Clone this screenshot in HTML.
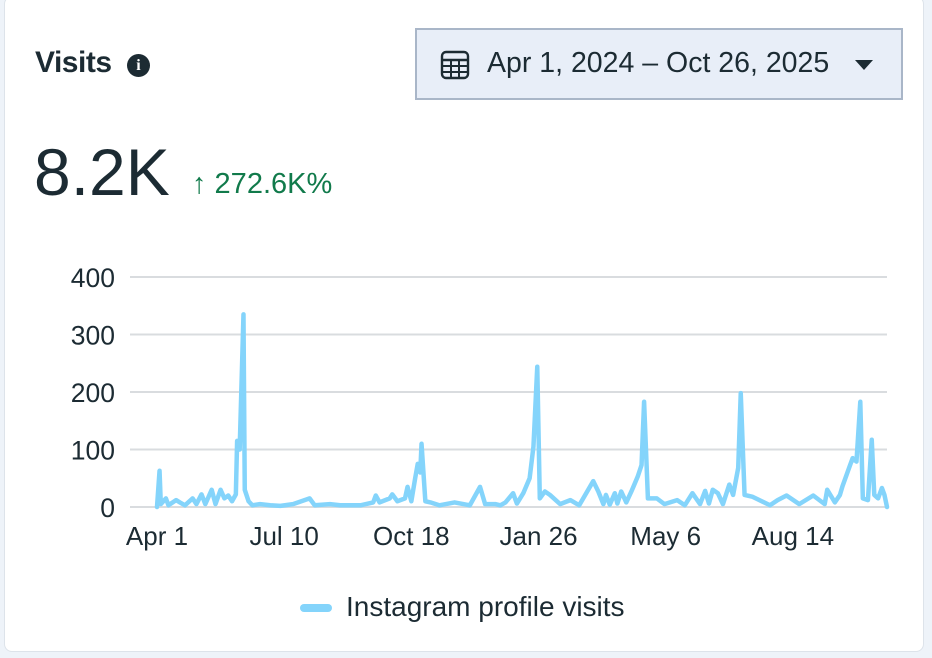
<!DOCTYPE html>
<html><head><meta charset="utf-8"><style>
body{margin:0;width:932px;height:658px;background:#eef3f9;font-family:"Liberation Sans",sans-serif;color:#1c2b33;overflow:hidden}
#card{position:absolute;left:4px;top:-4px;width:918px;height:654px;background:#fff;border:1px solid #dde3ea;border-radius:8px}
.t{position:absolute;white-space:nowrap}
</style></head><body>
<div id="card"></div>
<div class="t" style="left:35px;top:46px;font-size:30px;font-weight:bold;letter-spacing:-0.5px">Visits</div>
<div style="position:absolute;left:127px;top:54px;width:23px;height:23px;border-radius:50%;background:#1c2b33;color:#fff;font:bold 16px 'Liberation Serif',serif;text-align:center;line-height:23px">i</div>
<div style="position:absolute;left:415px;top:28px;width:488px;height:72px;background:#e8eef8;border:2px solid #a9b6c8;box-sizing:border-box"></div>
<svg style="position:absolute;left:440px;top:50px" width="30" height="30" viewBox="0 0 30 30"><rect x="2" y="2" width="26" height="26" rx="4" fill="none" stroke="#1c2b33" stroke-width="2.4"/><line x1="2" y1="10" x2="28" y2="10" stroke="#1c2b33" stroke-width="2.4"/><line x1="2" y1="16" x2="28" y2="16" stroke="#1c2b33" stroke-width="2"/><line x1="2" y1="22" x2="28" y2="22" stroke="#1c2b33" stroke-width="2"/><line x1="11" y1="10" x2="11" y2="28" stroke="#1c2b33" stroke-width="2"/><line x1="19" y1="10" x2="19" y2="28" stroke="#1c2b33" stroke-width="2"/></svg>
<div class="t" style="left:487px;top:47px;font-size:28.5px">Apr 1, 2024 – Oct 26, 2025</div>
<div style="position:absolute;left:855px;top:60px;width:0;height:0;border-left:9px solid transparent;border-right:9px solid transparent;border-top:10px solid #1c2b33"></div>
<div class="t" style="left:34px;top:134px;font-size:66px">8.2K</div>
<div class="t" style="left:192px;top:168px;font-size:29px;color:#117a4b">↑ 272.6K%</div>
<svg id="chart" style="position:absolute;left:0;top:0" width="932" height="658"></svg>
<div style="position:absolute;left:300px;top:604px;width:32px;height:8px;border-radius:4px;background:#84d4fb"></div>
<div class="t" style="left:346px;top:591px;font-size:28px">Instagram profile visits</div>
<script>
const days=[0,2,3,7,9,15,18,22,28,31,35,38,43,46,50,53,56,59,62,63,65,68,69,72,75,81,89,97,107,120,124,136,144,160,170,172,175,183,185,189,195,197,200,203,205,207,208,211,215,222,234,246,254,258,266,270,274,280,283,288,293,296,299,301,305,309,317,325,332,343,347,351,353,356,360,362,365,369,373,378,381,383,386,393,399,409,415,421,427,431,434,437,441,445,450,453,457,459,462,468,482,488,495,505,516,525,527,533,537,539,545,547,550,553,555,559,562,564,567,570,572,574];
const visits=[0,63,5,15,3,12,8,3,15,5,22,5,30,5,30,15,20,10,22,115,100,335,30,10,3,5,3,2,5,15,3,5,3,3,8,20,8,15,22,10,15,35,10,50,75,60,110,10,8,3,8,3,35,5,5,3,8,24,6,24,50,105,244,15,27,21,5,12,3,45,27,5,21,4,24,6,27,8,27,53,73,183,15,15,5,12,3,24,5,28,6,30,24,5,39,21,68,198,21,18,3,12,20,5,20,5,30,8,21,36,73,85,79,183,15,12,117,21,15,33,21,0];
const yTicks=[0,100,200,300,400];
const xTickDays=[0,100,200,300,400,500];
const xTickLabels=["Apr 1","Jul 10","Oct 18","Jan 26","May 6","Aug 14"];
const svg=document.getElementById('chart');const NS='http://www.w3.org/2000/svg';
const X=d=>157+d*(730/574), Y=v=>507-v*0.575;
function mk(t,a){const e=document.createElementNS(NS,t);for(const k in a)e.setAttribute(k,a[k]);svg.appendChild(e);return e;}
yTicks.forEach(v=>{
 const l=mk('line',{x1:130,x2:887,y1:Y(v),y2:Y(v),stroke:'#d9dcdf','stroke-width':2});
 
 
 const t=mk('text',{x:115,y:Y(v)+10,'text-anchor':'end','font-size':26.5,fill:'#1c2b33','font-family':'Liberation Sans'});t.textContent=v;
 
 
});
xTickDays.forEach((d,i)=>{
 const t=mk('text',{x:X(d),y:545,'text-anchor':'middle','font-size':26,fill:'#1c2b33','font-family':'Liberation Sans'});t.textContent=xTickLabels[i];
 
 
});
const p=mk('polyline',{points:days.map((d,i)=>X(d)+','+Y(visits[i])).join(' '),fill:'none',stroke:'#84d4fb','stroke-width':4.5,'stroke-linejoin':'round','stroke-linecap':'round'});


</script>
</body></html>
